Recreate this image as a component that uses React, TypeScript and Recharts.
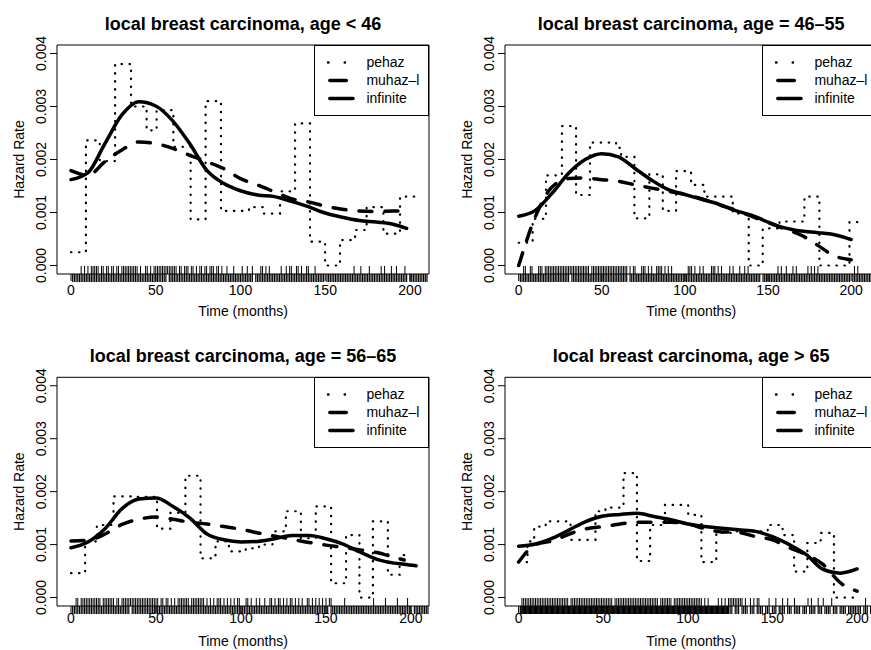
import {
  ComposedChart,
  Legend,
  Line,
  ReferenceArea,
  Scatter,
  XAxis,
  YAxis,
} from "recharts";

const FONT = '"Liberation Sans", Arial, Helvetica, sans-serif';

const seriesNames = ["pehaz", "muhaz\u2013l", "infinite"];
const xTicks = [0, 50, 100, 150, 200];
const yTicks = [0, 0.001, 0.002, 0.003, 0.004];
const Y_MIN = -0.00016;
const Y_MAX = 0.00416;

// ---- age < 46 ----
const p1Grid = [0, 10, 20, 30, 40, 50, 60, 70, 80, 90, 100, 110, 120, 130, 140, 150, 160, 170, 180, 190, 198];
const p1Infinite = [0.00162, 0.00175, 0.0023, 0.00284, 0.00309, 0.00301, 0.00273, 0.0023, 0.0018, 0.00155, 0.00141, 0.00133, 0.0013, 0.00121, 0.00111, 0.00099, 0.00091, 0.00085, 0.00082, 0.00078, 0.0007];
const p1Muhaz = [0.00179, 0.0017, 0.00196, 0.00218, 0.00233, 0.0023, 0.00221, 0.00208, 0.00196, 0.00183, 0.00164, 0.00152, 0.00139, 0.00126, 0.0012, 0.00112, 0.00106, 0.00103, 0.00102, 0.00103, 0.00102];
const p1PehazT = [0, 8.8, 17, 26, 35.4, 44.6, 50.5, 60.4, 70.6, 79.4, 88.5, 105, 113.5, 123.3, 132.2, 141, 149.9, 158.7, 167.6, 174.4, 184.3, 194.1, 203];
const p1PehazV = [0.00025, 0.00236, 0.00197, 0.0038, 0.003, 0.00255, 0.00293, 0.00224, 0.00087, 0.0031, 0.00103, 0.0011, 0.00098, 0.0014, 0.00268, 0.00045, 0, 0.00048, 0.00067, 0.0011, 0.0006, 0.0013, 0.0013];
const p1Events = [6, 8, 10, 12, 13, 14, 15, 16, 18, 19, 21, 22, 24, 25, 27, 28, 30, 31, 32, 33, 34, 35, 36, 37, 38, 39, 41, 44, 45, 47, 49, 50, 51, 52, 53, 54, 55, 56, 57, 58, 59, 60, 61, 62, 64, 65, 67, 68, 69, 71, 72, 74, 76, 77, 79, 80, 82, 83, 84, 86, 87, 89, 92, 96, 101, 104, 107, 112, 113, 115, 117, 124, 127, 129, 130, 133, 134, 136, 139, 140, 144, 167, 171, 176, 183, 185, 189, 192, 197];
const p1Times = [
  1, 2, 3, 4, 5, 6, 7, 8, 9, 10, 11, 12, 13, 14, 15, 16, 17, 18, 19, 20,
  21, 22, 23, 24, 25, 26, 27, 28, 29, 30, 31, 32, 33, 34, 35, 36, 37, 38, 39, 40,
  41, 42, 43, 44, 45, 46, 47, 48, 49, 50, 51, 52, 53, 54, 55, 56, 58, 59, 60,
  61, 62, 63, 64, 65, 66, 67, 68, 69, 70, 71, 72, 73, 74, 75, 76, 77, 78, 79, 80,
  81, 82, 83, 84, 85, 86, 87, 88, 89, 90, 91, 92, 93, 94, 95, 96, 97, 98, 99, 100,
  101, 102, 103, 104, 105, 106, 107, 109, 110, 111, 112, 113, 114, 115, 116, 117, 118, 119, 120,
  121, 122, 123, 124, 125, 126, 127, 128, 129, 130, 131, 132, 133, 134, 135, 136, 137, 138, 139, 140,
  141, 142, 143, 144, 145, 146, 147, 148, 149, 151, 152, 153, 154, 155, 156, 157, 158, 159, 160,
  161, 162, 163, 164, 165, 166, 167, 168, 169, 170, 171, 172, 173, 174, 175, 176, 177, 178, 179, 180,
  181, 182, 183, 184, 185, 186, 187, 188, 189, 190, 191, 192, 193, 194, 195, 196, 197, 198, 200,
  201, 202, 203, 204, 205, 206, 207, 208, 209, 210,
];

// ---- age 46-55 ----
const p2Grid = [0, 10, 20, 30, 40, 50, 60, 70, 80, 90, 100, 110, 120, 130, 140, 150, 160, 170, 180, 190, 200];
const p2Infinite = [0.00093, 0.00104, 0.00136, 0.00174, 0.002, 0.00211, 0.00205, 0.00183, 0.00161, 0.00143, 0.00134, 0.00125, 0.00116, 0.00104, 0.00095, 0.00082, 0.00071, 0.00065, 0.00062, 0.00058, 0.00049];
const p2Muhaz = [0, 0.00092, 0.00148, 0.00164, 0.00165, 0.00162, 0.00159, 0.00152, 0.00146, 0.0014, 0.00134, 0.00126, 0.00115, 0.00105, 0.00093, 0.00081, 0.00069, 0.00057, 0.00038, 0.00018, 0.00011];
const p2PehazT = [0, 8.4, 16.4, 26, 34.5, 42.9, 58.6, 61.6, 69.6, 78.6, 86.7, 94.7, 103.7, 111.7, 128.8, 138.4, 146.8, 156.9, 171.9, 180.9, 199, 206];
const p2PehazV = [0.00043, 0.00088, 0.0017, 0.00263, 0.00133, 0.00232, 0.00222, 0.00205, 0.00089, 0.00172, 0.00103, 0.00178, 0.00152, 0.0013, 0.00098, 0, 0.0007, 0.00083, 0.0013, 0, 0.00082, 0.00082];
const p2Events = [3, 4, 7, 8, 12, 13, 14, 16, 17, 18, 19, 20, 21, 22, 23, 24, 25, 26, 27, 28, 29, 30, 31, 32, 33, 34, 35, 36, 37, 38, 39, 40, 41, 42, 44, 45, 46, 47, 48, 49, 50, 51, 52, 53, 54, 55, 56, 57, 58, 59, 60, 61, 62, 63, 64, 65, 67, 69, 70, 74, 75, 76, 78, 80, 83, 84, 85, 86, 88, 90, 92, 102, 103, 104, 106, 109, 111, 116, 117, 118, 120, 122, 127, 129, 133, 136, 138, 156, 158, 161, 165, 167, 174, 176, 178, 180, 202, 204];
const p2Times = [
  1, 2, 3, 4, 5, 6, 7, 8, 9, 10, 11, 12, 13, 14, 15, 16, 17, 18, 19, 20,
  21, 22, 23, 24, 25, 26, 27, 28, 29, 30, 32, 33, 34, 35, 36, 37, 38, 39, 40,
  41, 42, 43, 44, 45, 46, 47, 48, 49, 50, 51, 52, 53, 54, 55, 56, 57, 58, 59, 60,
  61, 62, 63, 64, 65, 67, 68, 69, 70, 71, 72, 73, 74, 75, 76, 77, 78, 79, 80,
  81, 82, 83, 84, 85, 86, 87, 88, 89, 90, 91, 92, 93, 94, 95, 96, 97, 98, 99, 100,
  101, 102, 103, 104, 105, 106, 107, 108, 109, 110, 111, 112, 113, 114, 115, 116, 117, 118, 119, 120,
  121, 122, 123, 124, 125, 126, 127, 128, 129, 130, 131, 132, 133, 134, 135, 136, 137, 138, 139, 140,
  141, 142, 143, 144, 145, 147, 148, 149, 150, 151, 152, 153, 154, 155, 156, 157, 158, 159, 160,
  161, 162, 163, 164, 165, 166, 167, 168, 169, 170, 171, 172, 173, 174, 175, 176, 177, 178, 179, 180,
  181, 182, 183, 184, 185, 186, 187, 188, 189, 190, 191, 192, 193, 194, 195, 196, 197, 198, 199,
  201, 202, 203, 204, 205, 206, 207, 208, 209, 210, 211, 212,
];

// ---- age 56-65 ----
const p3Grid = [0, 10, 20, 30, 40, 50, 60, 70, 80, 90, 100, 110, 120, 130, 140, 150, 160, 170, 180, 190, 196, 203];
const p3Infinite = [0.00094, 0.00105, 0.0013, 0.00168, 0.00186, 0.00188, 0.00172, 0.0015, 0.0012, 0.00109, 0.00105, 0.00106, 0.00111, 0.00117, 0.00117, 0.00111, 0.00101, 0.00086, 0.00072, 0.00065, 0.00063, 0.0006];
const p3Muhaz = [0.00107, 0.00108, 0.0012, 0.00138, 0.00148, 0.00152, 0.00148, 0.00142, 0.00139, 0.00134, 0.00129, 0.00122, 0.00116, 0.0011, 0.00104, 0.00099, 0.00095, 0.0009, 0.00085, 0.00076, 0.00071, null];
const p3PehazT = [0, 8.3, 15.2, 25, 35.8, 50.6, 58.5, 67.3, 76.2, 85, 92.9, 102.8, 110.6, 118.5, 126.4, 135.2, 144, 153, 161.8, 169.7, 177.6, 186.4, 193.3, 198.2];
const p3PehazV = [0.00046, 0.00106, 0.00137, 0.00191, 0.0019, 0.0013, 0.0016, 0.0023, 0.00074, 0.00106, 0.00087, 0.00093, 0.001, 0.00125, 0.00163, 0.00112, 0.00172, 0.00027, 0.00118, 0, 0.00144, 0.00043, 0.0008, 0.0008];
const p3Events = [3, 4, 6, 7, 8, 9, 10, 11, 12, 13, 14, 15, 16, 17, 19, 20, 21, 22, 23, 24, 25, 27, 28, 30, 31, 32, 33, 34, 35, 36, 37, 38, 39, 40, 41, 42, 43, 44, 45, 46, 47, 48, 49, 50, 51, 53, 54, 56, 57, 59, 61, 63, 64, 65, 66, 67, 68, 69, 71, 72, 73, 74, 75, 76, 77, 78, 80, 82, 84, 86, 87, 88, 90, 92, 94, 96, 98, 99, 103, 104, 106, 109, 111, 114, 117, 118, 120, 122, 123, 125, 127, 129, 130, 132, 134, 136, 139, 140, 142, 144, 146, 148, 150, 152, 153, 161, 178, 185, 192, 198];
const p3Times = [
  1, 2, 3, 4, 5, 6, 7, 8, 9, 10, 11, 12, 13, 14, 15, 16, 17, 18, 19, 20,
  21, 22, 23, 24, 25, 26, 27, 28, 29, 30, 31, 32, 33, 34, 36, 37, 38, 39, 40,
  41, 42, 43, 44, 45, 46, 47, 48, 49, 50, 51, 52, 53, 54, 55, 56, 57, 58, 59, 60,
  61, 62, 63, 64, 65, 66, 67, 68, 69, 70, 71, 72, 73, 74, 75, 76, 77, 78, 79, 80,
  81, 82, 83, 84, 85, 86, 87, 88, 89, 90, 91, 92, 93, 94, 95, 96, 97, 98, 99, 100,
  101, 102, 103, 104, 105, 106, 107, 108, 109, 110, 111, 112, 113, 114, 115, 116, 117, 118, 119, 120,
  121, 122, 123, 124, 125, 126, 127, 128, 129, 130, 131, 132, 133, 134, 135, 136, 137, 138, 139, 140,
  141, 142, 143, 144, 145, 146, 147, 148, 149, 150, 151, 153, 154, 155, 156, 157, 158, 159, 160,
  161, 162, 163, 164, 165, 166, 167, 168, 169, 170, 171, 172, 173, 174, 175, 176, 177, 178, 179, 180,
  181, 182, 183, 184, 185, 186, 187, 188, 189, 190, 191, 192, 193, 194, 195, 196, 197, 198, 199, 200,
  202, 203, 204, 205, 206, 207, 208, 209, 210,
];

// ---- age > 65 ----
const p4Grid = [0, 10, 20, 30, 40, 50, 60, 70, 80, 90, 100, 110, 120, 130, 140, 150, 160, 170, 180, 190, 200];
const p4Infinite = [0.00097, 0.00101, 0.00112, 0.00128, 0.00144, 0.00154, 0.00157, 0.00159, 0.00153, 0.00147, 0.00139, 0.00134, 0.00131, 0.00128, 0.00125, 0.00115, 0.001, 0.00081, 0.00053, 0.00046, 0.00054];
const p4Muhaz = [0.00067, 0.001, 0.00107, 0.0012, 0.0013, 0.00134, 0.00139, 0.00142, 0.00142, 0.00142, 0.00139, 0.0013, 0.00124, 0.00123, 0.00115, 0.00109, 0.00094, 0.00081, 0.00062, 0.00028, 0.00012];
const p4PehazT = [0, 5.3, 9.2, 16, 30.7, 45.4, 51.3, 62, 69.9, 77.7, 86.5, 100.2, 108, 116.8, 125.6, 147.2, 156, 162.8, 170.6, 178.5, 186.3, 198];
const p4PehazV = [0.00067, 0.00106, 0.00134, 0.00144, 0.00109, 0.00163, 0.0017, 0.00235, 0.00069, 0.00137, 0.00175, 0.00156, 0.00067, 0.00122, 0.00125, 0.00137, 0.00118, 0.00049, 0.00103, 0.00122, 0, 0];
const p4Events = [
  2, 3, 4, 5, 6, 7, 8, 9, 10, 11, 12, 13, 14, 15, 16, 17, 18, 19, 20, 21, 22, 23, 24, 25, 26, 27, 28, 29,
  31, 32, 33, 34, 35, 36, 37, 38, 39, 40, 41, 42, 43, 44, 45, 46, 47, 48, 49, 50, 51, 52, 53, 54, 55,
  57, 58, 59, 60, 61, 62, 63, 64, 65, 66, 67, 68, 69, 70, 71, 72, 73, 74, 75, 76, 77, 78, 79, 80, 81, 82,
  84, 85, 86, 87, 88, 89, 90, 92, 93, 94, 95, 96, 97, 98, 99, 100, 101, 102, 103, 104, 105, 106, 107, 108,
  110, 112, 118, 120, 122, 124, 125, 126, 127, 128, 129, 130, 131, 132, 134, 137, 139, 141, 142, 148, 152,
  156, 159, 163, 171, 173, 177, 180, 185, 205,
];
const p4Times = [
  1, 1.5, 2, 2.5, 3, 3.5, 4, 4.5, 5, 5.5, 6, 6.5, 7, 7.5, 8, 8.5, 9, 9.5, 10, 10.5,
  11, 11.5, 12, 12.5, 13, 13.5, 14, 14.5, 15, 15.5, 16, 16.5, 17, 17.5, 18, 18.5, 19, 19.5, 20, 20.5,
  21, 21.5, 22, 22.5, 23, 23.5, 24, 24.5, 25, 25.5, 26, 26.5, 27, 27.5, 28, 28.5, 29, 29.5, 30, 30.5,
  31, 31.5, 32, 32.5, 33, 33.5, 34, 34.5, 35, 35.5, 36, 36.5, 37, 37.5, 38, 38.5, 39, 39.5, 40, 40.5,
  41, 41.5, 42, 42.5, 43, 43.5, 44, 44.5, 45, 45.5, 46, 46.5, 47, 47.5, 48, 48.5, 49, 49.5, 50, 50.5,
  51, 51.5, 52, 52.5, 53, 53.5, 54, 54.5, 55, 55.5, 56, 56.5, 57, 57.5, 58, 58.5, 59, 59.5, 60, 60.5,
  61, 61.5, 62, 62.5, 63, 63.5, 64, 64.5, 65, 65.5, 66, 66.5, 67, 67.5, 68, 68.5, 69, 69.5, 70, 70.5,
  71, 71.5, 72, 72.5, 73, 73.5, 74, 74.5, 75, 75.5, 76, 76.5, 77, 77.5, 78, 78.5, 79, 79.5, 80, 80.5,
  81, 81.5, 82, 82.5, 83, 83.5, 84, 84.5, 85, 85.5, 86, 86.5, 87, 87.5, 88, 88.5, 89, 89.5, 90, 90.5,
  91, 91.5, 92, 92.5, 93, 93.5, 94, 94.5, 95, 95.5, 96, 96.5, 97, 97.5, 98, 98.5, 99, 99.5, 100, 100.5,
  101, 101.5, 102, 102.5, 103, 103.5, 104, 104.5, 105, 105.5, 106, 106.5, 107, 107.5, 108, 108.5, 109, 109.5, 110, 110.5,
  111, 111.5, 112, 112.5, 113, 113.5, 114, 114.5, 115, 115.5, 116, 116.5, 117, 117.5, 118, 118.5, 119, 119.5, 120, 120.5,
  121, 121.5, 122, 122.5, 123, 123.5, 124, 125, 126, 128, 129, 130, 132, 133, 134, 135, 137, 138, 139,
  141, 142, 143, 144, 146, 147, 148, 150, 151, 152, 154, 155, 156, 157, 159, 160, 161, 163, 164, 165, 166,
  168, 169, 170, 172, 173, 174, 175, 177, 178, 179, 181, 182, 183, 184, 186, 187, 188, 190, 191, 192, 193,
  195, 196, 197, 198, 199, 201, 202, 204, 205, 206, 208, 209, 210, 211, 212,
];

type Box = { l: number; r: number; t: number; b: number };
type PanelSpec = {
  title: string;
  left: number;
  top: number;
  width: number;
  height: number;
  box: Box;
  xDomain: [number, number];
  titleY: number;
  xTickY: number;
  xLabelY: number;
  grid: number[];
  infinite: (number | null)[];
  muhaz: (number | null)[];
  pehazT: number[];
  pehazV: number[];
  events: number[];
  times: number[];
};

const panels: PanelSpec[] = [
  {
    title: "local breast carcinoma, age < 46",
    left: 0, top: 0, width: 435, height: 325,
    box: { l: 57, r: 429, t: 45, b: 274 },
    xDomain: [-8.26, 211.2],
    titleY: 29.5, xTickY: 295, xLabelY: 315.5,
    grid: p1Grid, infinite: p1Infinite, muhaz: p1Muhaz,
    pehazT: p1PehazT, pehazV: p1PehazV, events: p1Events, times: p1Times,
  },
  {
    title: "local breast carcinoma, age = 46\u201355",
    left: 436, top: 0, width: 446, height: 325,
    box: { l: 69, r: 441.4, t: 45, b: 274 },
    xDomain: [-8.24, 215.8],
    titleY: 29.5, xTickY: 295, xLabelY: 315.5,
    grid: p2Grid, infinite: p2Infinite, muhaz: p2Muhaz,
    pehazT: p2PehazT, pehazV: p2PehazV, events: p2Events, times: p2Times,
  },
  {
    title: "local breast carcinoma, age = 56\u201365",
    left: 0, top: 325, width: 435, height: 325,
    box: { l: 57, r: 429, t: 52.3, b: 281 },
    xDomain: [-8.24, 210.6],
    titleY: 36.7, xTickY: 298.3, xLabelY: 321,
    grid: p3Grid, infinite: p3Infinite, muhaz: p3Muhaz,
    pehazT: p3PehazT, pehazV: p3PehazV, events: p3Events, times: p3Times,
  },
  {
    title: "local breast carcinoma, age > 65",
    left: 436, top: 325, width: 446, height: 325,
    box: { l: 69, r: 441.4, t: 52.3, b: 281 },
    xDomain: [-8.04, 210.6],
    titleY: 36.7, xTickY: 298.3, xLabelY: 321,
    grid: p4Grid, infinite: p4Infinite, muhaz: p4Muhaz,
    pehazT: p4PehazT, pehazV: p4PehazV, events: p4Events, times: p4Times,
  },
];

const LEGEND_W = 115;
const LEGEND_H = 70;

const toPoints = (ts: number[], vs: (number | null)[]) =>
  ts.map((t, i) => ({ t, v: vs[i] })).filter((d) => d.v !== null && d.v !== undefined);

const RugUp = (props: any) => (
  <line x1={props.cx} x2={props.cx} y1={props.cy} y2={props.cy - 8} stroke="#000" strokeWidth={1} />
);
const RugDown = (props: any) => (
  <line x1={props.cx} x2={props.cx} y1={props.cy} y2={props.cy + 8} stroke="#000" strokeWidth={1.2} />
);

const textStyle = { fontFamily: FONT, fontSize: 14, fill: "#000" };

function LegendBox() {
  const rows = [17.5, 35.5, 53.5];
  return (
    <svg width={LEGEND_W} height={LEGEND_H + 1} style={{ display: "block" }}>
      <rect x={0.5} y={0.5} width={LEGEND_W - 1} height={LEGEND_H} fill="#fff" stroke="#000" />
      <line x1={14} x2={31} y1={rows[0]} y2={rows[0]} stroke="#000" strokeWidth={2.4}
        strokeDasharray="0.5 16.2" strokeLinecap="round" />
      <line x1={15.8} x2={32.3} y1={rows[1]} y2={rows[1]} stroke="#000" strokeWidth={3.5}
        strokeLinecap="round" />
      <line x1={15.8} x2={39} y1={rows[2]} y2={rows[2]} stroke="#000" strokeWidth={3.5}
        strokeLinecap="round" />
      {seriesNames.map((name, i) => (
        <text key={name} x={52.4} y={rows[i] + 4.6} {...textStyle}>
          {name}
        </text>
      ))}
    </svg>
  );
}

function Panel({ spec }: { spec: PanelSpec }) {
  const { box } = spec;
  const midX = (box.l + box.r) / 2;
  const midY = (box.t + box.b) / 2;
  const infinite = toPoints(spec.grid, spec.infinite);
  const muhaz = toPoints(spec.grid, spec.muhaz);
  const pehaz = toPoints(spec.pehazT, spec.pehazV);
  const events = spec.events.map((t) => ({ t, v: Y_MIN }));
  const times = spec.times.map((t) => ({ t, v: Y_MIN }));
  const yTickX = box.l - 11;

  return (
    <div style={{ position: "absolute", left: spec.left, top: spec.top }}>
      <ComposedChart
        width={spec.width}
        height={spec.height}
        margin={{
          top: box.t,
          left: box.l - 1,
          right: spec.width - box.r,
          bottom: spec.height - box.b - 1,
        }}
      >
        <XAxis
          type="number"
          dataKey="t"
          domain={spec.xDomain}
          ticks={xTicks}
          interval={0}
          height={1}
          axisLine={false}
          stroke="#000"
          tickSize={7}
          tickLine={{ stroke: "#000" }}
          tick={(p: any) => (
            <text x={p.x} y={spec.xTickY} textAnchor="middle" {...textStyle}>
              {p.payload.value}
            </text>
          )}
          label={{
            content: () => (
              <text x={midX} y={spec.xLabelY} textAnchor="middle" {...textStyle}>
                Time (months)
              </text>
            ),
          }}
        />
        <YAxis
          type="number"
          domain={[Y_MIN, Y_MAX]}
          ticks={yTicks}
          interval={0}
          width={1}
          axisLine={false}
          stroke="#000"
          tickSize={7}
          tickLine={{ stroke: "#000" }}
          tick={(p: any) => (
            <text
              x={yTickX}
              y={p.y}
              textAnchor="middle"
              transform={`rotate(-90, ${yTickX}, ${p.y})`}
              {...textStyle}
            >
              {Number(p.payload.value).toFixed(3)}
            </text>
          )}
          label={{
            content: () => (
              <text
                x={box.l - 33}
                y={midY}
                textAnchor="middle"
                transform={`rotate(-90, ${box.l - 33}, ${midY})`}
                {...textStyle}
              >
                Hazard Rate
              </text>
            ),
          }}
        />
        <ReferenceArea
          x1={spec.xDomain[0]}
          x2={spec.xDomain[1]}
          y1={Y_MIN}
          y2={Y_MAX}
          fill="none"
          fillOpacity={0}
          stroke="#000"
          strokeWidth={1}
          ifOverflow="visible"
          label={{
            content: () => (
              <text
                x={midX}
                y={spec.titleY}
                textAnchor="middle"
                fontFamily={FONT}
                fontSize={18}
                fontWeight="bold"
                fill="#000"
              >
                {spec.title}
              </text>
            ),
          }}
        />
        <Scatter data={events} dataKey="v" shape={RugUp} isAnimationActive={false} />
        <Scatter data={times} dataKey="v" shape={RugDown} isAnimationActive={false} />
        <Line
          data={pehaz}
          dataKey="v"
          type="stepAfter"
          stroke="#000"
          strokeWidth={2.2}
          strokeDasharray="0.5 7.5"
          strokeLinecap="round"
          dot={false}
          activeDot={false}
          isAnimationActive={false}
        />
        <Line
          data={muhaz}
          dataKey="v"
          type="monotone"
          stroke="#000"
          strokeWidth={3.5}
          strokeDasharray="13 13"
          strokeLinecap="round"
          dot={false}
          activeDot={false}
          isAnimationActive={false}
        />
        <Line
          data={infinite}
          dataKey="v"
          type="monotone"
          stroke="#000"
          strokeWidth={3.5}
          strokeLinecap="round"
          dot={false}
          activeDot={false}
          isAnimationActive={false}
        />
        <Legend
          layout="vertical"
          align="center"
          verticalAlign="middle"
          content={() => <LegendBox />}
          wrapperStyle={{
            left: box.r - LEGEND_W,
            top: box.t,
            right: "auto",
            bottom: "auto",
            width: LEGEND_W,
            height: LEGEND_H + 1,
          }}
        />
      </ComposedChart>
    </div>
  );
}

export default function App() {
  return (
    <div
      style={{
        position: "absolute",
        left: 0,
        top: 0,
        width: 871,
        height: 650,
        overflow: "hidden",
        background: "#fff",
      }}
    >
      {panels.map((spec) => (
        <Panel key={spec.title} spec={spec} />
      ))}
    </div>
  );
}
